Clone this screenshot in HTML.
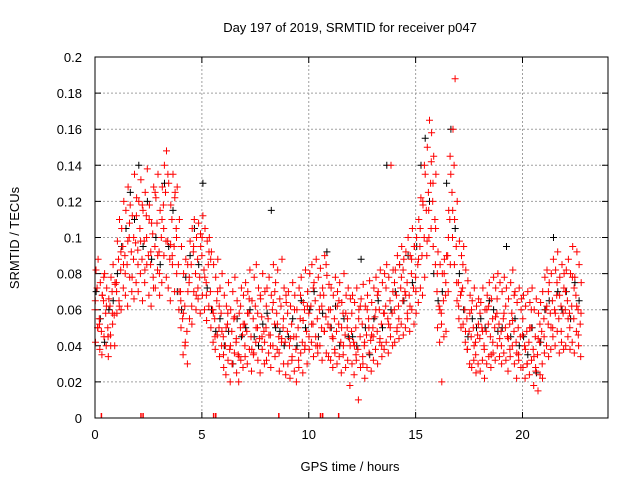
<!DOCTYPE html>
<html><head><meta charset="utf-8"><style>
body{margin:0;background:#fff;}
svg{display:block;font-family:"Liberation Sans",sans-serif;}
</style></head><body>
<svg id="chart" width="640" height="480">
<text x="350" y="32" font-size="13" text-anchor="middle">Day 197 of 2019, SRMTID for receiver p047</text>
<text transform="translate(19,238) rotate(-90)" font-size="13" text-anchor="middle">SRMTID / TECUs</text>
<text x="350" y="471" font-size="13" text-anchor="middle">GPS time / hours</text>
<g id="grid"></g>
<g id="axes"></g>
<g id="marks"></g>
<rect x="95" y="57" width="513" height="361" fill="none" stroke="#000" stroke-width="1"/>
</svg>
<script>
const xTicks=[0,5,10,15,20];
const yTicks=[0,0.02,0.04,0.06,0.08,0.1,0.12,0.14,0.16,0.18,0.2];
const yTickLabels=["0","0.02","0.04","0.06","0.08","0.1","0.12","0.14","0.16","0.18","0.2"];
const redStep=0.1;
const redA=[.060,.072,.055,.048,.065,.058,.050,.062,.070,.057,
.075,.088,.082,.095,.090,.085,.100,.092,.088,.097,
.093,.105,.088,.098,.112,.090,.085,.102,.095,.108,
.092,.100,.118,.125,.098,.088,.110,.095,.105,.085,
.070,.055,.062,.048,.075,.085,.092,.080,.088,.078,
.090,.082,.075,.085,.070,.060,.055,.065,.050,.058,
.045,.040,.052,.038,.048,.055,.042,.035,.050,.046,
.052,.048,.058,.045,.055,.062,.050,.044,.056,.048,
.050,.055,.046,.060,.052,.058,.045,.062,.050,.042,
.048,.040,.052,.045,.038,.050,.055,.042,.060,.048,
.058,.062,.052,.065,.055,.060,.050,.068,.056,.052,
.050,.045,.055,.048,.052,.042,.058,.046,.050,.044,
.048,.042,.050,.038,.045,.052,.040,.046,.055,.043,
.050,.056,.048,.060,.052,.058,.062,.055,.065,.058,
.060,.068,.062,.072,.065,.070,.075,.068,.080,.072,
.078,.085,.095,.090,.100,.115,.125,.130,.120,.110,
.070,.062,.058,.065,.068,.090,.110,.125,.140,.095,
.075,.068,.072,.060,.055,.048,.045,.050,.042,.046,
.044,.050,.040,.048,.052,.045,.055,.050,.058,.052,
.048,.055,.050,.045,.052,.058,.048,.042,.050,.045,
.046,.040,.048,.042,.050,.038,.045,.035,.042,.048,
.055,.060,.052,.058,.065,.060,.068,.055,.062,.058,
.060,.065,.058,.062,.055,.068,.060,.052];
const redB=[.082,.088,.075,.068,.080,.072,.066,.078,.085,.074,
.098,.110,.105,.120,.115,.128,.118,.112,.135,.122,
.120,.132,.115,.125,.138,.118,.108,.128,.122,.135,
.115,.128,.140,.148,.130,.118,.135,.125,.128,.110,
.095,.080,.088,.070,.098,.105,.110,.100,.108,.095,
.112,.105,.098,.100,.092,.085,.078,.088,.072,.080,
.068,.062,.075,.060,.070,.078,.065,.058,.072,.068,
.075,.070,.082,.065,.078,.085,.072,.066,.080,.070,
.072,.078,.068,.085,.075,.082,.066,.088,.072,.064,
.070,.062,.075,.068,.060,.072,.078,.064,.082,.070,
.080,.085,.075,.088,.078,.083,.072,.090,.079,.074,
.072,.068,.078,.070,.075,.064,.080,.068,.072,.066,
.068,.064,.072,.060,.066,.074,.062,.068,.076,.064,
.072,.078,.070,.082,.075,.080,.085,.078,.140,.082,
.082,.090,.085,.095,.088,.092,.100,.090,.105,.095,
.100,.110,.122,.118,.135,.150,.165,.158,.145,.135,
.092,.085,.080,.088,.090,.115,.135,.160,.188,.120,
.098,.090,.095,.082,.076,.068,.065,.072,.062,.066,
.064,.072,.060,.068,.075,.066,.078,.072,.080,.075,
.070,.078,.072,.066,.075,.082,.070,.064,.072,.066,
.068,.062,.070,.064,.072,.060,.066,.058,.064,.070,
.078,.082,.075,.080,.088,.082,.092,.078,.085,.080,
.082,.088,.080,.095,.078,.092,.085,.075];
const redC=[.042,.050,.038,.035,.045,.040,.034,.046,.052,.040,
.058,.065,.060,.072,.068,.062,.078,.070,.066,.075,
.070,.080,.065,.075,.085,.068,.062,.078,.072,.082,
.068,.075,.090,.098,.072,.065,.085,.070,.080,.060,
.050,.035,.042,.030,.055,.062,.070,.060,.066,.058,
.068,.060,.054,.062,.050,.042,.038,.046,.034,.040,
.028,.024,.032,.020,.030,.036,.025,.020,.032,.028,
.034,.030,.038,.026,.036,.042,.032,.025,.038,.030,
.032,.036,.028,.040,.034,.038,.026,.042,.030,.024,
.030,.022,.034,.026,.020,.032,.036,.025,.040,.030,
.038,.042,.034,.045,.036,.040,.032,.048,.036,.034,
.032,.028,.036,.030,.034,.025,.040,.028,.032,.018,
.030,.024,.032,.010,.028,.034,.022,.028,.036,.026,
.032,.038,.030,.042,.034,.038,.042,.036,.045,.040,
.042,.048,.044,.052,.046,.050,.055,.048,.060,.052,
.058,.064,.072,.068,.078,.090,.100,.105,.095,.085,
.050,.042,.020,.045,.048,.070,.085,.100,.110,.075,
.055,.050,.052,.042,.038,.030,.028,.032,.025,.030,
.026,.032,.022,.030,.034,.028,.036,.032,.040,.034,
.030,.036,.032,.026,.034,.040,.030,.022,.032,.028,
.028,.022,.030,.024,.032,.018,.026,.015,.024,.030,
.036,.040,.034,.038,.045,.040,.048,.036,.042,.038,
.040,.045,.038,.042,.036,.048,.040,.034];
const redStep2=0.2;
const redD=[.065,.052,.078,.045,.058,.070,.092,.080,.108,.100,
.085,.118,.100,.092,.125,.080,.105,.135,.090,.100,
.065,.040,.078,.095,.072,.100,.068,.088,.045,.062,
.035,.058,.030,.044,.062,.040,.066,.035,.058,.045,
.062,.040,.070,.036,.055,.058,.032,.045,.068,.038,
.045,.072,.040,.062,.085,.060,.038,.065,.035,.055,
.058,.035,.062,.042,.050,.045,.068,.040,.072,.050,
.075,.055,.082,.058,.088,.070,.105,.140,.115,.130,
.080,.052,.075,.145,.085,.062,.085,.038,.060,.035,
.058,.038,.062,.042,.066,.040,.062,.038,.068,.035,
.055,.030,.060,.028,.052,.045,.070,.050,.075,.048,
.070,.050,.072,.046];
const redE=[.050,.068,.062,.040,.075,.062,.085,.098,.078,.112,
.098,.082,.110,.072,.090,.110,.078,.096,.122,.070,
.058,.085,.052,.068,.102,.078,.092,.058,.070,.048,
.050,.040,.056,.034,.052,.058,.038,.050,.068,.042,
.046,.064,.052,.044,.068,.044,.060,.028,.054,.062,
.052,.040,.068,.048,.060,.044,.062,.050,.058,.040,
.040,.055,.030,.060,.046,.060,.044,.058,.052,.070,
.050,.078,.068,.062,.095,.088,.120,.098,.142,.105,
.060,.080,.100,.115,.065,.070,.048,.058,.040,.052,
.048,.060,.035,.056,.044,.058,.044,.054,.036,.060,
.038,.050,.034,.044,.022,.062,.050,.058,.068,.072,
.055,.078,.062,.058];
const blackStep=0.2;
const blackV=[.070,.055,.042,.060,.065,.080,.095,.105,.125,.110,
.140,.095,.120,.088,.100,.085,.130,.095,.115,.070,
.060,.078,.090,.105,.085,.130,.072,.060,.048,.055,
.040,.048,.030,.055,.045,.050,.060,.045,.040,.052,
.058,.115,.050,.048,.040,.045,.055,.040,.065,.050,
.060,.070,.045,.058,.092,.050,.062,.040,.055,.045,
.045,.040,.088,.050,.035,.055,.065,.050,.140,.060,
.070,.085,.065,.090,.075,.095,.140,.155,.120,.080,
.065,.070,.130,.160,.105,.080,.060,.045,.055,.050,
.055,.050,.065,.060,.048,.050,.095,.045,.055,.040,
.045,.035,.050,.025,.042,.060,.065,.100,.070,.060,
.070,.055,.075,.065];
const zeroHours=[0.3,2.15,2.25,5.55,5.65,8.6,10.55,10.65,11.4];

const X0=95,X1=608,Y0=418,Y1=57,XMAX=24,YMAX=0.2;
const xs=h=>X0+h/XMAX*(X1-X0);
const ys=v=>Y0-v/YMAX*(Y0-Y1);
const NS="http://www.w3.org/2000/svg";
const grid=document.getElementById('grid'),axes=document.getElementById('axes'),marks=document.getElementById('marks');
function mk(tag,attrs,parent){const e=document.createElementNS(NS,tag);for(const k in attrs)e.setAttribute(k,attrs[k]);parent.appendChild(e);return e;}
xTicks.forEach(t=>{
  const x=xs(t);
  if(t>0){const g=mk('line',{x1:x,x2:x,y1:Y1,y2:Y0,stroke:'#a0a0a0','stroke-dasharray':'2,2'},grid);
  
  }
  const tk=mk('path',{d:`M${x},${Y0}v-6M${x},${Y1}v6`,stroke:'#000'},axes);
  
  
  const tx=mk('text',{x:x,y:Y0+21,'font-size':13,'text-anchor':'middle'},axes);tx.textContent=t;
  
  
});
yTicks.forEach((t,i)=>{
  const y=ys(t);
  if(i>0&&i<yTicks.length-1){const g=mk('line',{x1:X0,x2:X1,y1:y,y2:y,stroke:'#a0a0a0','stroke-dasharray':'2,2'},grid);
  
  }
  const tk=mk('path',{d:`M${X0},${y}h6M${X1},${y}h-6`,stroke:'#000'},axes);
  
  
  const tx=mk('text',{x:X0-13,y:y+5,'font-size':13,'text-anchor':'end'},axes);tx.textContent=yTickLabels[i];
  
  
});
function plus(h,v,color,name){
  const x=xs(h),y=ys(v);
  const p=mk('path',{d:`M${(x-3.5).toFixed(1)},${y.toFixed(1)}h7M${x.toFixed(1)},${(y-3.5).toFixed(1)}v7`,stroke:color,'stroke-width':1,fill:'none'},marks);
  
  
}
blackV.forEach((v,i)=>plus(i*blackStep+0.05,v,'#000','black-point'));
[redA,redB,redC].forEach((s,k)=>s.forEach((v,i)=>plus(i*redStep+[0,0.047,0.023][k],v,'#ff0000','red-point')));
redD.forEach((v,i)=>plus(i*redStep2+0.012,v,'#ff0000','red-point'));
redE.forEach((v,i)=>plus(i*redStep2+0.135,v,'#ff0000','red-point'));
zeroHours.forEach(h=>{
  const x=xs(h);
  const p=mk('line',{x1:x,x2:x,y1:Y0-5,y2:Y0,stroke:'#ff0000','stroke-width':1.5},marks);
  
  
});
</script>
</body></html>
